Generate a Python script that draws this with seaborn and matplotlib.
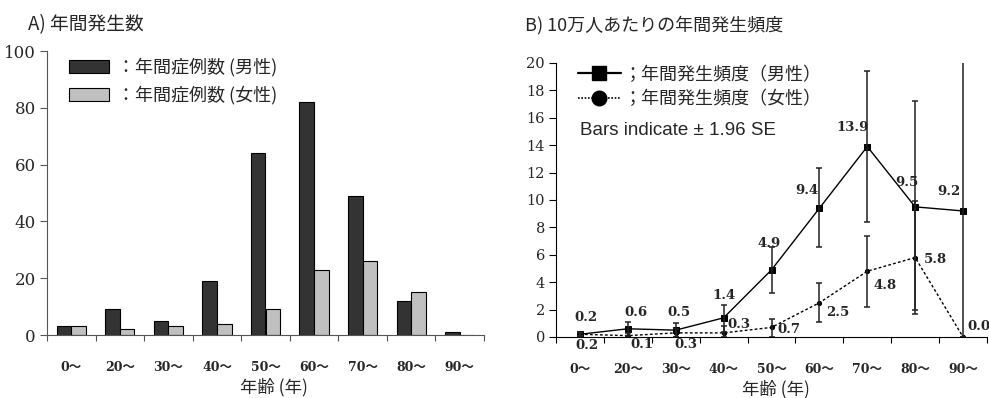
import numpy as np
import pandas as pd
import matplotlib
matplotlib.use("Agg")
import matplotlib.pyplot as plt
import seaborn as sns
from matplotlib.patches import Patch
from matplotlib.lines import Line2D

# ---------------- data ----------------
ages = ["0〜", "20〜", "30〜", "40〜", "50〜", "60〜", "70〜", "80〜", "90〜"]

cases_male = [3, 9, 5, 19, 64, 82, 49, 12, 1]
cases_female = [3, 2, 3, 4, 9, 23, 26, 15, 0]

rate_male = [0.2, 0.6, 0.5, 1.4, 4.9, 9.4, 13.9, 9.5, 9.2]
rate_female = [0.2, 0.1, 0.3, 0.3, 0.7, 2.5, 4.8, 5.8, 0.0]

male_lo = [0.05, 0.1, 0.0, 0.4, 3.2, 6.6, 8.4, 1.7, 0.0]
male_hi = [0.4, 1.1, 1.0, 2.3, 6.6, 12.3, 19.4, 17.2, 22.0]
female_lo = [0.1, 0.0, 0.0, 0.0, 0.0, 1.1, 2.2, 2.0, 0.0]
female_hi = [0.3, 0.3, 0.6, 0.8, 1.35, 3.95, 7.4, 9.9, 0.0]

lab_case_m = "：年間症例数 (男性)"
lab_case_f = "：年間症例数 (女性)"
lab_rate_m = "；年間発生頻度（男性）"
lab_rate_f = "；年間発生頻度（女性）"

# label offsets (pixels) for value annotations
off_m = [(6, 17), (8, 16), (3, 18), (0, 22), (-2, 26), (-13, 18), (-15, 19), (-8, 24), (-14, 19)]
off_f = [(7, -11), (14, -9), (10, -12), (15, 8), (17, -2), (18, -10), (18, -14), (20, -2), (16, 10)]

# ---------------- style ----------------
sns.set_style("ticks")
plt.rcParams["font.family"] = ["Noto Sans CJK JP", "DejaVu Sans"]
serif = ["DejaVu Serif", "Noto Sans CJK JP"]

W, H = 989, 398
fig = plt.figure(figsize=(W / 100, H / 100), dpi=100)

def fx(px):
    return px / W

def fy(py):
    return 1 - py / H

axA = fig.add_axes([fx(47), fy(335), fx(484 - 47), (335 - 51) / H])
axB = fig.add_axes([fx(556), fy(337), fx(987 - 556), (337 - 63) / H])

# ---------------- panel A ----------------
df = pd.DataFrame({
    "age": ages * 2,
    "count": cases_male + cases_female,
    "sex": [lab_case_m] * len(ages) + [lab_case_f] * len(ages),
})
sns.barplot(data=df, x="age", y="count", hue="sex", order=ages,
            hue_order=[lab_case_m, lab_case_f],
            palette=["#333333", "#c0c0c0"], edgecolor="black", linewidth=0.8,
            width=0.6, ax=axA, legend=False)
axA.set_ylim(0, 100)
axA.set_xlim(-0.5, len(ages) - 0.5)
axA.set_yticks(np.arange(0, 101, 20))
axA.set_ylabel("")

handles = [Patch(facecolor="#333333", edgecolor="black", linewidth=0.8),
           Patch(facecolor="#c0c0c0", edgecolor="black", linewidth=0.8)]
axA.legend(handles, [lab_case_m, lab_case_f], loc="upper left",
           bbox_to_anchor=(0.05, 0.975), frameon=False, fontsize=13,
           handlelength=2.2, handleheight=0.75, handletextpad=0.45,
           labelspacing=0.5, borderpad=0, borderaxespad=0)

# ---------------- panel B ----------------
sns.pointplot(x=ages, y=rate_male, order=ages, color="black", markers="s",
              linestyles="-", errorbar=None, ax=axB, markersize=4, linewidth=1)
sns.pointplot(x=ages, y=rate_female, order=ages, color="black", markers="o",
              linestyles=(0, (2, 1.6)), errorbar=None, ax=axB, markersize=3,
              linewidth=1)
pos = np.arange(len(ages))
rm = np.array(rate_male)
rf = np.array(rate_female)
axB.errorbar(pos, rm, yerr=[rm - np.array(male_lo), np.array(male_hi) - rm],
             fmt="none", ecolor="#222222", elinewidth=1.1, capsize=2.5,
             capthick=1.1)
axB.errorbar(pos, rf, yerr=[rf - np.array(female_lo), np.array(female_hi) - rf],
             fmt="none", ecolor="#222222", elinewidth=1.1, capsize=2.5,
             capthick=1.1)
axB.set_ylim(0, 20)
axB.set_xlim(-0.5, len(ages) - 0.5)
axB.set_yticks(np.arange(0, 21, 2))

for i, v in enumerate(rate_male):
    axB.annotate(f"{v:.1f}", (pos[i], v), xytext=off_m[i], textcoords="offset pixels",
                 ha="center", va="center", fontsize=9.5, fontweight="bold",
                 family=serif)
for i, v in enumerate(rate_female):
    axB.annotate(f"{v:.1f}", (pos[i], v), xytext=off_f[i], textcoords="offset pixels",
                 ha="center", va="center", fontsize=9.5, fontweight="bold",
                 family=serif, annotation_clip=False)

hB = [Line2D([], [], color="black", linestyle="-", linewidth=1.6, marker="s",
             markersize=9.5),
      Line2D([], [], color="black", linestyle=(0, (1, 1)), linewidth=1.2,
             marker="o", markersize=10.5)]
axB.legend(hB, [lab_rate_m, lab_rate_f], loc="upper left",
           bbox_to_anchor=(0.05, 0.99), frameon=False, fontsize=13,
           handlelength=2.4, handletextpad=0.15, labelspacing=0.35,
           borderpad=0, borderaxespad=0)
axB.text(0.056, 0.755, "Bars indicate ± 1.96 SE", transform=axB.transAxes,
         ha="left", va="center", fontsize=13.5, family=["Liberation Sans", "DejaVu Sans"])

# ---------------- common axis styling ----------------
for ax, ysz, scol, axh, xc in [(axA, 12, "#555555", 284, 0.52),
                               (axB, 10.5, "black", 274, 0.51)]:
    sns.despine(ax=ax)
    ax.spines["left"].set_color(scol)
    ax.spines["bottom"].set_color(scol)
    ax.set_xticks(pos)
    ax.set_xticklabels(ages, fontsize=9, fontweight="bold", family=serif)
    ax.set_xticks(np.arange(-0.5, len(ages), 1), minor=True)
    ax.tick_params(axis="x", which="major", length=0, pad=19)
    ax.tick_params(axis="x", which="minor", length=4, width=0.8, direction="out",
                   color=scol)
    ax.tick_params(axis="y", length=5, width=0.8, direction="out", pad=3,
                   color=scol)
    for t in ax.get_yticklabels():
        t.set_family(serif)
        t.set_fontsize(ysz)
    ax.set_xlabel("年齢 (年)", fontsize=12.5, va="center")
    ax.xaxis.set_label_coords(xc, -52 / axh)
    ax.set_ylabel("")

fig.text(fx(28), fy(25), "A) 年間発生数", ha="left", va="center", fontsize=13.5)
fig.text(fx(525), fy(25), "B) 10万人あたりの年間発生頻度", ha="left", va="center",
         fontsize=13)

fig.savefig("out.png", dpi=100)
